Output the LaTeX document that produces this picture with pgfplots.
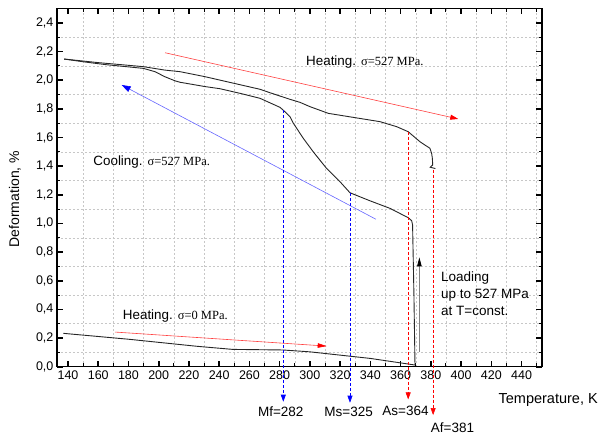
\documentclass[border=0pt]{standalone}
\usepackage{fontspec}
\setmainfont{Liberation Sans}
\newfontfamily\tms{Liberation Serif}
\usepackage{pgfplots}
\pgfplotsset{compat=1.18}
\usetikzlibrary{arrows.meta}

\begin{document}
\begin{tikzpicture}
\begin{axis}[
  scale only axis, width=485pt, height=358.25pt,
  xmin=132.7, xmax=453.5, ymin=0, ymax=2.5,
  xtick={140,160,...,440}, minor xtick={150,170,...,450},
  ytick={0,0.2,0.4,0.6,0.8,1.0,1.2,1.4,1.6,1.8,2.0,2.2,2.4},
  minor ytick={0.1,0.3,0.5,0.7,0.9,1.1,1.3,1.5,1.7,1.9,2.1,2.3,2.5},
  grid=minor, minor grid style={black!22, dash pattern=on 2pt off 2pt, line width=0.5pt},
  tick align=inside, xtick pos=both, ytick pos=both,
  major tick length=6pt, minor tick length=3.5pt,
  major tick style={line width=1.6pt, black},
  minor tick style={line width=1pt, black},
  axis line style={line width=1.5pt},
  tick label style={font=\fontsize{12.5}{15}\selectfont},
  /pgf/number format/assume math mode=true,
  yticklabel style={/pgf/number format/.cd, fixed, fixed zerofill, precision=1, use comma},
  clip=false,
]
% picture frame (sets the bounding box)
\path (axis cs:95.03,-0.4836) rectangle (axis cs:491.2,2.559);

% heating, sigma = 0
\addplot[black!85, line width=0.9pt] coordinates {
 (137,0.233) (180,0.192) (225,0.143) (249,0.121) (282,0.117) (300,0.104)
 (340,0.058) (369.5,0.012)};
% loading at T=const and cooling, sigma = 527 MPa
\addplot[black!85, line width=0.9pt] coordinates {
 (369.5,0.012) (368.8,0.5) (367.9,0.99) (367.3,1.019) (365,1.04) (353,1.105)
 (339.7,1.158) (326.5,1.214) (319.9,1.291) (311,1.384) (302.2,1.5) (295.6,1.594)
 (289,1.70) (286.8,1.745) (282.4,1.79) (280.2,1.81) (267,1.873) (254.9,1.905)
 (240.5,1.94) (230.6,1.955) (214.1,1.985) (210.8,1.995) (204,2.024) (197.5,2.059)
 (189.8,2.082) (165,2.108) (150,2.128) (137.5,2.147)};
% heating, sigma = 527 MPa
\addplot[black!85, line width=0.9pt] coordinates {
 (137.5,2.147) (160,2.122) (189.8,2.094) (204,2.07) (214,2.059) (230.6,2.024)
 (240.5,2.0) (267,1.936) (273.6,1.912) (286.8,1.866) (293.4,1.845) (300,1.815)
 (312.2,1.768) (328.7,1.74) (346.4,1.71) (357.4,1.675) (365,1.64) (372.8,1.57)
 (379.4,1.524) (380.5,1.489) (381,1.454) (381.2,1.408) (379.6,1.392) (383,1.383)};

% direction arrows
\addplot[red!75, line width=0.6pt, -{Triangle[length=8pt,width=5pt,color=red]}]
 coordinates {(204.2,2.191) (398.1,1.729)};
\addplot[blue!60, line width=0.6pt, -{Triangle[length=9pt,width=6pt,color=blue]}]
 coordinates {(343.7,1.029) (175.5,1.966)};
\addplot[red!75, line width=0.6pt, -{Triangle[length=9pt,width=4.5pt,color=red]}]
 coordinates {(171.1,0.242) (311.1,0.144)};
\addplot[black!50, line width=0.8pt, -{Triangle[length=9pt,width=4.5pt,color=black]}]
 coordinates {(372.4,0.105) (372.4,0.763)};

% transformation temperatures
\addplot[blue, line width=0.6pt, dash pattern=on 3pt off 2pt, -{Triangle[length=7pt,width=5pt]}]
 coordinates {(282.4,1.79) (282.4,-0.244)};
\addplot[blue, line width=0.6pt, dash pattern=on 3pt off 2pt, -{Triangle[length=7pt,width=5pt]}]
 coordinates {(326.5,1.214) (326.5,-0.251)};
\addplot[red, line width=0.6pt, dash pattern=on 3pt off 2pt, -{Triangle[length=7pt,width=5pt]}]
 coordinates {(365,1.64) (365,-0.228)};
\addplot[red, line width=0.6pt, dash pattern=on 3pt off 2pt, -{Triangle[length=7pt,width=5pt]}]
 coordinates {(381.5,1.375) (381.5,-0.337)};

\node[font=\fontsize{13.5}{16}\selectfont, inner sep=0] at (axis cs:280.7,-0.314) {Mf=282};
\node[font=\fontsize{13.5}{16}\selectfont, inner sep=0] at (axis cs:325.6,-0.314) {Ms=325};
\node[font=\fontsize{13.5}{16}\selectfont, inner sep=0] at (axis cs:363.2,-0.307) {As=364};
\node[font=\fontsize{13.5}{16}\selectfont, inner sep=0] at (axis cs:394.3,-0.423) {Af=381};

% annotations
\node[anchor=west, inner sep=0, font=\fontsize{13.4}{16}\selectfont] at (axis cs:297.4,2.128)
 {Heating. {\tms\fontsize{12.5}{15}\selectfont σ=527 MPa.}};
\node[anchor=west, inner sep=0, font=\fontsize{13.4}{16}\selectfont] at (axis cs:156.7,1.431)
 {Cooling. {\tms\fontsize{12.5}{15}\selectfont σ=527 MPa.}};
\node[anchor=west, inner sep=0, font=\fontsize{13.4}{16}\selectfont] at (axis cs:176.2,0.356)
 {Heating. {\tms\fontsize{12.5}{15}\selectfont σ=0 MPa.}};
\node[anchor=west, align=left, inner sep=0, font=\fontsize{13.5}{17}\selectfont] at (axis cs:386.7,0.507)
 {Loading\\up to 527 MPa\\at T=const.};

% axis titles
\node[rotate=90, inner sep=0, font=\fontsize{14}{16}\selectfont] at (axis cs:104.9,1.17) {Deformation, \%};
\node[anchor=east, inner sep=0, font=\fontsize{14.5}{17}\selectfont] at (axis cs:490.5,-0.232) {Temperature, K};
\end{axis}
\end{tikzpicture}
\end{document}
